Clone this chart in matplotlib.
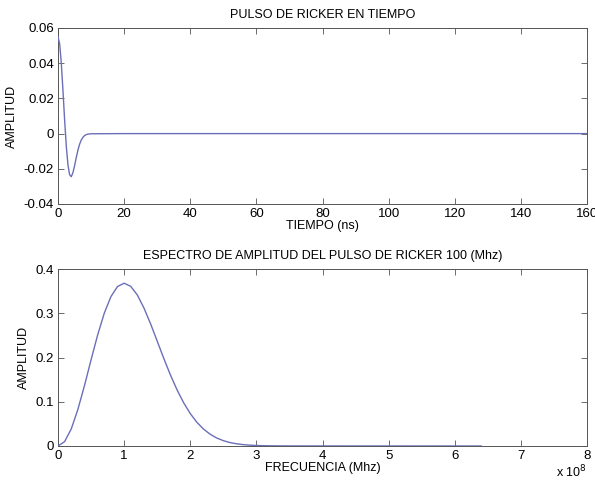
import matplotlib
matplotlib.use("Agg")
import matplotlib.pyplot as plt

plt.rcParams['font.family'] = ['Liberation Sans', 'DejaVu Sans']
plt.rcParams['font.size'] = 9

# Ricker pulse in time (ns)
tiempo = [0, 0.5, 1, 1.5, 2, 2.5, 3, 3.5, 4, 4.5, 5, 5.5, 6, 6.5, 7, 7.5, 8, 8.5, 9, 10, 20, 160]
amp_t = [0.055, 0.0510, 0.0400, 0.0245, 0.0078, -0.0069, -0.0176, -0.0233, -0.0245,
         -0.0223, -0.0184, -0.0138, -0.0096, -0.0062, -0.0038, -0.0022, -0.0012,
         -0.0006, -0.0003, -0.0001, 0.0, 0.0]

# amplitude spectrum (frequency in units of 1e8)
frec = [0, 0.1, 0.2, 0.3, 0.4, 0.5, 0.6, 0.7, 0.8, 0.9, 1.0, 1.1, 1.2, 1.3, 1.4, 1.5,
        1.6, 1.7, 1.8, 1.9, 2.0, 2.1, 2.2, 2.3, 2.4, 2.5, 2.6, 2.7, 2.8, 2.9, 3.0,
        3.2, 3.5, 6.4]
amp_f = [0, 0.0099, 0.0384, 0.0823, 0.1363, 0.1947, 0.2512, 0.3002, 0.3375, 0.3604,
         0.3679, 0.3608, 0.3412, 0.3118, 0.2762, 0.2371, 0.1979, 0.1606, 0.1270,
         0.0977, 0.0733, 0.0536, 0.0383, 0.0267, 0.0181, 0.0121, 0.0078, 0.0050,
         0.0031, 0.0019, 0.0011, 0.0004, 0.0001, 0.0]

line_color = '#6b6fb8'

fig = plt.figure(figsize=(5.95, 4.84), dpi=100)
ax1 = fig.add_axes([58 / 595, 1 - 204 / 484, 529 / 595, 176 / 484])
ax2 = fig.add_axes([58 / 595, 1 - 446 / 484, 529 / 595, 177 / 484])

for ax in (ax1, ax2):
    ax.tick_params(direction='in', top=True, right=True, length=4, width=0.6,
                   color='#555555', labelsize=9.5, pad=3)
    for s in ax.spines.values():
        s.set_linewidth(0.7)
        s.set_color('#555555')

ax1.plot(tiempo, amp_t, color=line_color, lw=1, zorder=3)
ax1.set_xlim(0, 160)
ax1.set_ylim(-0.04, 0.06)
ax1.set_xticks(range(0, 161, 20))
ax1.set_yticks([-0.04, -0.02, 0, 0.02, 0.04, 0.06])
ax1.set_yticklabels(['-0.04', '-0.02', '0', '0.02', '0.04', '0.06'])
ax1.set_title('PULSO DE RICKER EN TIEMPO', fontsize=9, pad=7)
ax1.set_xlabel('TIEMPO (ns)', fontsize=9, labelpad=0)
ax1.set_ylabel('AMPLITUD', fontsize=9)
ax1.yaxis.set_label_coords(-0.076, 0.5)

ax2.plot(frec, amp_f, color=line_color, lw=1, zorder=3)
ax2.set_xlim(0, 8)
ax2.set_ylim(0, 0.4)
ax2.set_xticks(range(0, 9))
ax2.set_yticks([0, 0.1, 0.2, 0.3, 0.4])
ax2.set_yticklabels(['0', '0.1', '0.2', '0.3', '0.4'])
ax2.set_title('ESPECTRO DE AMPLITUD DEL PULSO DE RICKER 100 (Mhz)', fontsize=9, pad=7)
ax2.set_xlabel('FRECUENCIA (Mhz)', fontsize=9, labelpad=0)
ax2.set_ylabel('AMPLITUD', fontsize=9)
ax2.yaxis.set_label_coords(-0.053, 0.5)
ax2.text(1.0, -0.1, r'x 10$^8$', transform=ax2.transAxes, ha='right', va='top', fontsize=9)

fig.savefig('out.png', dpi=100)
